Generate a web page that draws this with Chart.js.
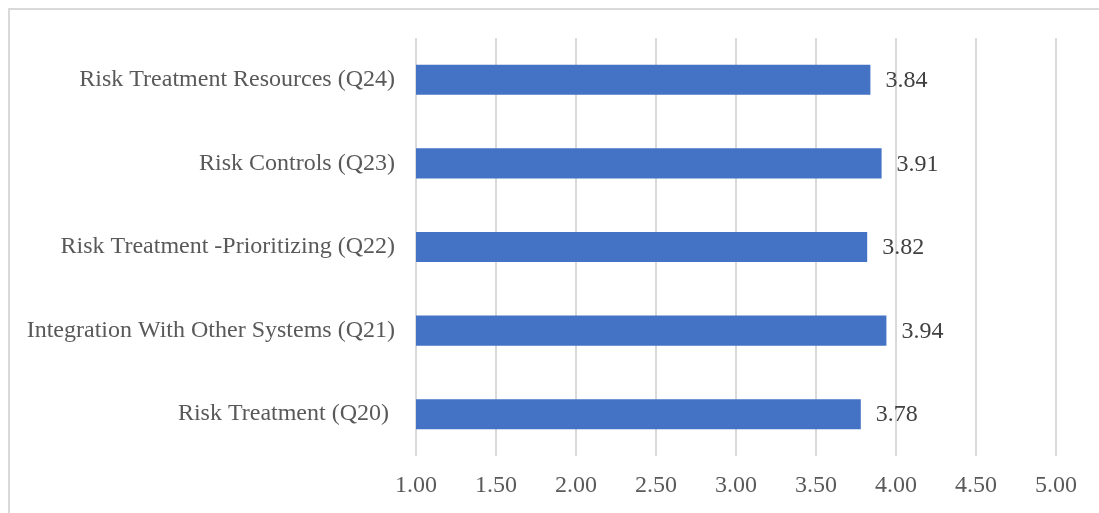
<!DOCTYPE html>
<html>
<head>
<meta charset="utf-8">
<script src="https://cdn.jsdelivr.net/npm/chart.js@4/dist/chart.umd.min.js"></script>
<style>
  html, body { margin: 0; padding: 0; background: #fff; }
  canvas { display: block; }
</style>
</head>
<body>
<canvas id="chart" width="1099" height="513"></canvas>
<script>
const categories = [
    "Risk Treatment Resources (Q24)",
    "Risk Controls (Q23)",
    "Risk Treatment -Prioritizing (Q22)",
    "Integration With Other Systems (Q21)",
    "Risk Treatment (Q20) "
];
const scores = [3.84, 3.91, 3.82, 3.94, 3.78];
const axisMin = 1;
const axisMax = 5;
const axisStep = 0.5;

const fontFamily = "'Liberation Serif', 'Times New Roman', serif";
const fontSize = 24;

// white page with the thin frame around the chart
const frame = {
    id: "frame",
    beforeDraw(chart) {
        const ctx = chart.ctx;
        ctx.save();
        ctx.fillStyle = "#ffffff";
        ctx.fillRect(0, 0, chart.width, chart.height);
        ctx.strokeStyle = "#d9d9d9";
        ctx.lineWidth = 2;
        ctx.beginPath();
        ctx.moveTo(9, chart.height + 2);
        ctx.lineTo(9, 9);
        ctx.lineTo(chart.width + 2, 9);
        ctx.stroke();
        ctx.restore();
    }
};

// value printed just past the end of each bar
const barValues = {
    id: "barValues",
    afterDatasetsDraw(chart) {
        const ctx = chart.ctx;
        const meta = chart.getDatasetMeta(0);
        ctx.save();
        ctx.font = fontSize + "px " + fontFamily;
        ctx.fillStyle = "#404040";
        ctx.textAlign = "left";
        ctx.textBaseline = "middle";
        meta.data.forEach((bar, i) => {
            ctx.fillText(scores[i].toFixed(2), bar.x + 15, bar.y + 1);
        });
        ctx.restore();
    }
};

new Chart(document.getElementById("chart"), {
    type: "bar",
    data: {
        labels: categories,
        datasets: [{
            data: scores,
            backgroundColor: "#4472c4",
            borderWidth: 0,
            barPercentage: 0.72,
            categoryPercentage: 0.5
        }]
    },
    options: {
        indexAxis: "y",
        responsive: false,
        animation: false,
        layout: { padding: { left: 0, top: 38, right: 43, bottom: 0 } },
        plugins: {
            legend: { display: false },
            tooltip: { enabled: false }
        },
        scales: {
            x: {
                min: axisMin,
                max: axisMax,
                border: { display: false },
                grid: { color: "#d9d9d9", lineWidth: 2, drawTicks: false },
                ticks: {
                    stepSize: axisStep,
                    padding: 15,
                    color: "#595959",
                    font: { family: fontFamily, size: fontSize },
                    callback: (v) => Number(v).toFixed(2)
                },
                afterFit: (scale) => { scale.height = 57; }
            },
            y: {
                border: { display: false },
                grid: { display: false, drawTicks: false },
                ticks: {
                    padding: 21,
                    color: "#595959",
                    font: { family: fontFamily, size: fontSize }
                },
                afterFit: (scale) => { scale.width = 416; }
            }
        }
    },
    plugins: [frame, barValues]
});
</script>
</body>
</html>
